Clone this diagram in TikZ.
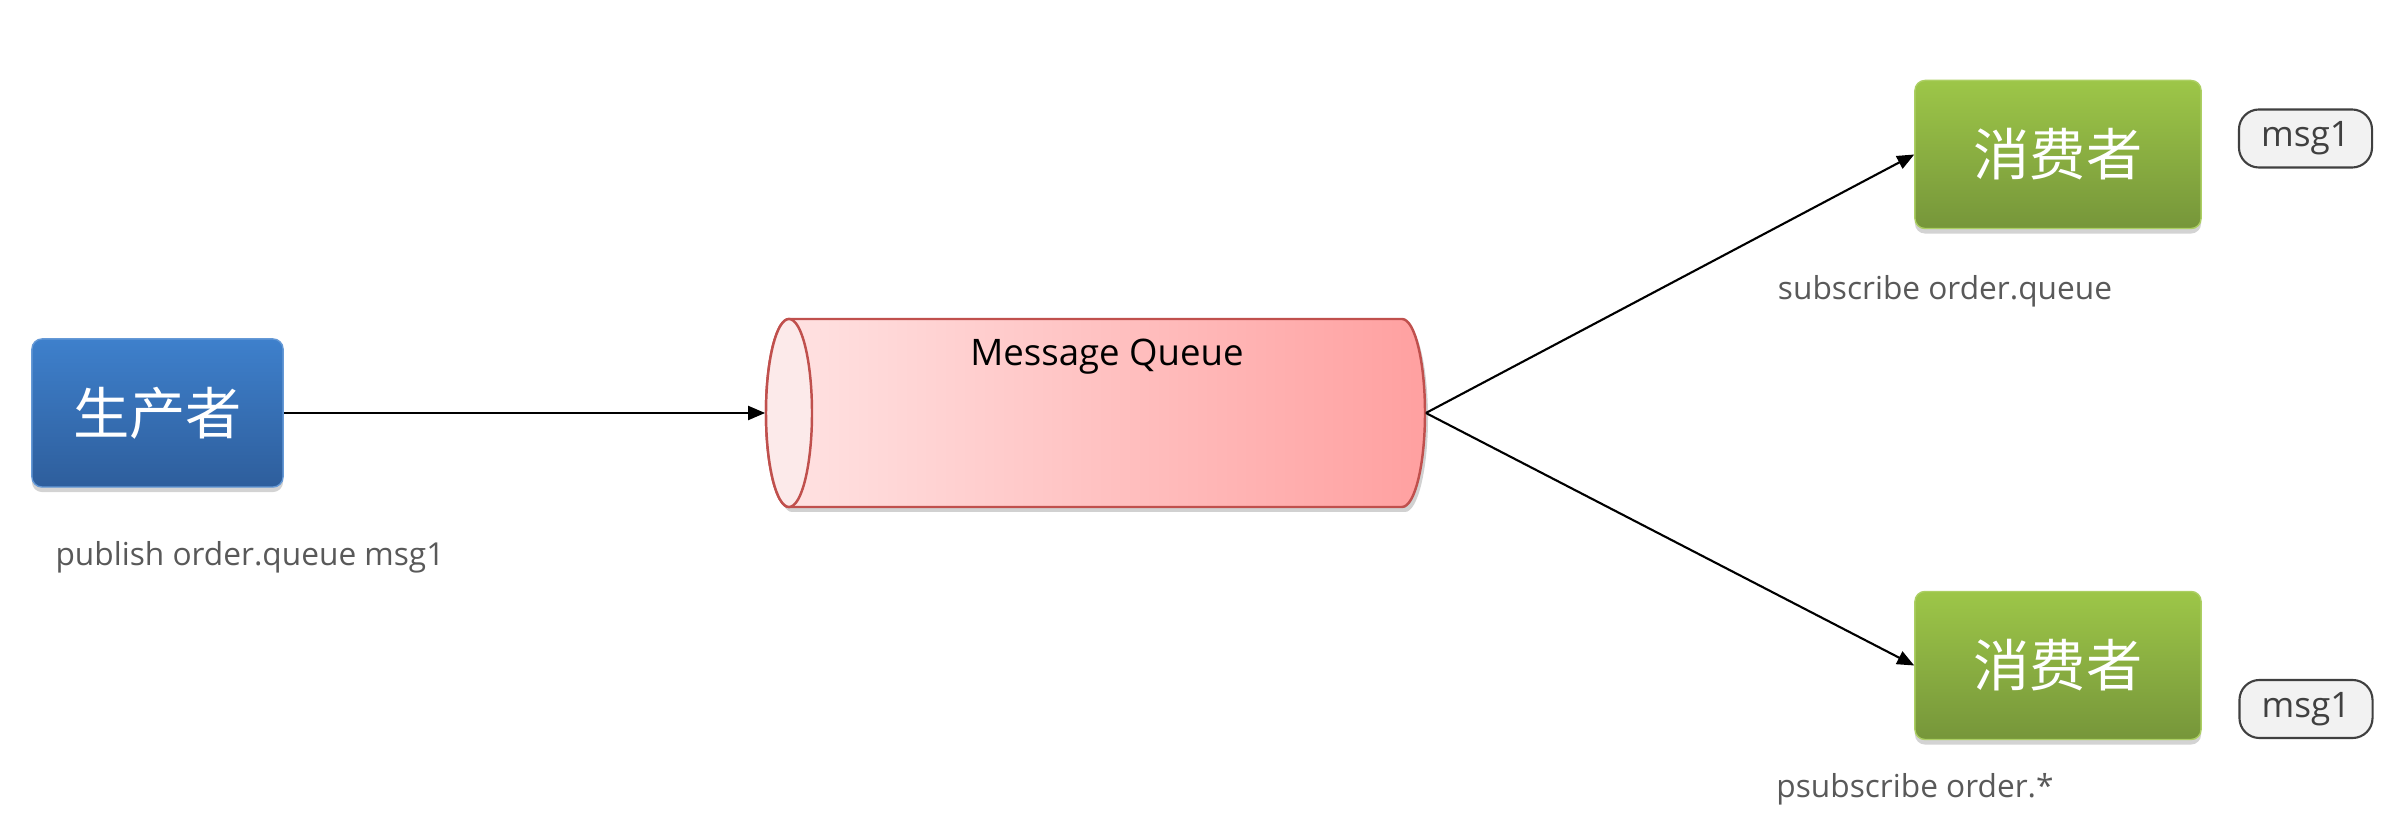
\documentclass[tikz,border=0pt]{standalone}
\usepackage{fontspec}
\setmainfont{Open Sans}
\newfontfamily\cjk{Noto Sans CJK SC}
\usetikzlibrary{arrows.meta,shadows,positioning}
\definecolor{blueTop}{RGB}{62,128,204}
\definecolor{blueBot}{RGB}{46,94,156}
\definecolor{greenTop}{RGB}{157,198,72}
\definecolor{greenBot}{RGB}{118,150,58}
\definecolor{mqLeft}{RGB}{255,228,228}
\definecolor{mqRight}{RGB}{255,160,160}
\definecolor{mqEdge}{RGB}{192,80,77}
\definecolor{mqFace}{RGB}{252,234,234}
\definecolor{labelGray}{RGB}{89,89,89}
\definecolor{tagFill}{RGB}{242,242,242}
\definecolor{tagEdge}{RGB}{64,64,64}
\tikzset{
  actor/.style={rounded corners=0.1cm, minimum width=#1, minimum height=1.48cm,
    inner sep=0pt, text=white, font=\cjk\fontsize{16}{18}\selectfont,
    drop shadow={opacity=0.35, shadow xshift=0cm, shadow yshift=-0.05cm}},
  producer/.style={actor=2.51cm, top color=blueTop, bottom color=blueBot, draw=blueTop!80!white, line width=0.4pt},
  consumer/.style={actor=2.86cm, top color=greenTop, bottom color=greenBot, draw=greenTop!85!white, line width=0.4pt},
  tag/.style={draw=tagEdge, fill=tagFill, rounded corners=0.2cm, line width=0.6pt,
    minimum width=1.33cm, minimum height=0.58cm, inner sep=0pt, text=tagEdge,
    font=\fontsize{10}{12}\selectfont},
  caption/.style={text=labelGray, font=\fontsize{9}{11}\selectfont, inner sep=0pt},
  flow/.style={draw=black, line width=0.6pt, -{Triangle[length=0.17cm,width=0.14cm]}}
}
\begin{document}
\begin{tikzpicture}[x=0.01cm,y=0.01cm]
\useasboundingbox (0,0) rectangle (2402,833);

% producer
\node[producer] (prod) at (157.5,420) {生产者};
\node[caption] (pubtxt) at (250,276) {publish order.queue msg1};

% message queue drawn as a horizontal cylinder around a hidden frame node
\node[minimum width=6.59cm, minimum height=1.88cm, inner sep=0pt] (mq) at (1095.5,420) {};
\fill[black, opacity=0.18] (789+3,326-5) -- (1402+3,326-5)
   arc[start angle=-90, end angle=90, x radius=23, y radius=94] -- (789+3,514-5)
   arc[start angle=90, end angle=270, x radius=23, y radius=94] -- cycle;
\path[left color=mqLeft, right color=mqRight, draw=mqEdge, line width=0.7pt]
   (789,326) -- (1402,326)
   arc[start angle=-90, end angle=90, x radius=23, y radius=94] -- (789,514)
   arc[start angle=90, end angle=270, x radius=23, y radius=94] -- cycle;
\draw[fill=mqFace, draw=mqEdge, line width=0.7pt] (789,420) ellipse[x radius=23, y radius=94];
\node[font=\fontsize{10.4}{12}\selectfont, text=black, inner sep=0pt] (mqtxt) at (1107,476) {Message Queue};

% consumers
\node[consumer] (cons1) at (2058,678.5) {消费者};
\node[tag] (tag1) at (2305.5,694.5) {msg1};
\node[caption] (subtxt) at (1945,542) {subscribe order.queue};

\node[consumer] (cons2) at (2058,167.5) {消费者};
\node[tag] (tag2) at (2306,124) {msg1};
\node[caption] (psubtxt) at (1915,44) {psubscribe order.*};

% connectors
\draw[flow] (prod.east) -- (mq.west);
\draw[flow] (mq.east) -- (cons1.west);
\draw[flow] (mq.east) -- (cons2.west);
\end{tikzpicture}
\end{document}
